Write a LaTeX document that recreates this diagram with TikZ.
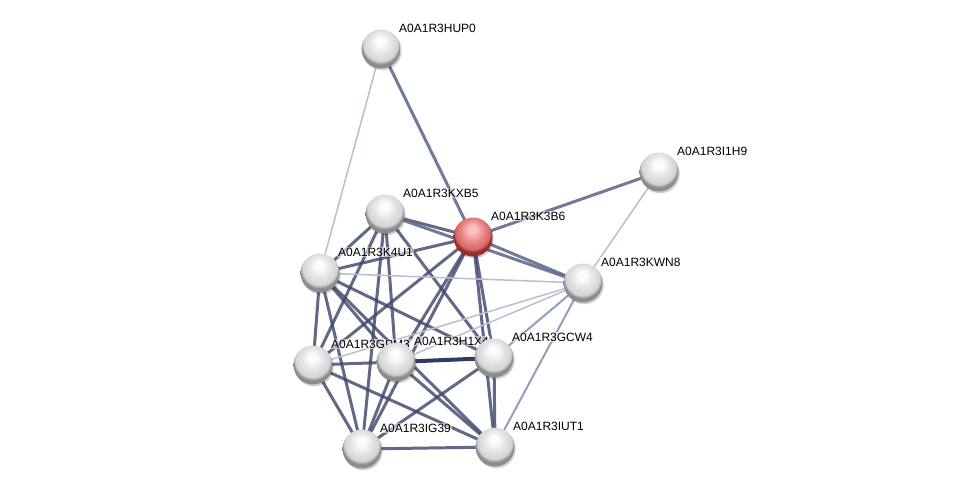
\documentclass[tikz,border=0pt]{standalone}
\usepackage{fontspec}
\setmainfont{Liberation Sans}
\definecolor{sphW}{RGB}{252,252,252}
\definecolor{sphA}{RGB}{226,226,226}
\definecolor{sphB}{RGB}{212,212,212}
\definecolor{sphC}{RGB}{140,140,140}
\definecolor{redW}{RGB}{252,190,190}
\definecolor{redA}{RGB}{232,132,132}
\definecolor{redB}{RGB}{214,104,104}
\definecolor{redC}{RGB}{150,45,45}
\definecolor{edgeS}{RGB}{62,72,108}
\definecolor{edgeX}{RGB}{38,48,86}
\definecolor{edgeM}{RGB}{98,108,142}
\definecolor{edgeLM}{RGB}{150,157,185}
\definecolor{edgeL}{RGB}{186,190,210}
\pgfdeclareradialshading{graysphere}{\pgfqpoint{-1bp}{11bp}}{%
  color(0bp)=(sphW); color(5bp)=(sphW); color(15bp)=(sphA); color(22bp)=(sphB); color(25bp)=(sphC); color(50bp)=(sphC)}
\pgfdeclareradialshading{redsphere}{\pgfqpoint{-1bp}{11bp}}{%
  color(0bp)=(redW); color(5bp)=(redW); color(15bp)=(redA); color(22bp)=(redB); color(25bp)=(redC); color(50bp)=(redC)}
\pgfdeclarelayer{edges}
\pgfdeclarelayer{labels}
\pgfsetlayers{edges,labels,main}
\tikzset{
  prot/.style={circle, minimum size=39pt, inner sep=0pt, shading=graysphere, draw=none},
  protred/.style={circle, minimum size=39pt, inner sep=0pt, shading=redsphere, draw=none},
  shad/.style={circle, minimum size=39pt, inner sep=0pt, fill=black, fill opacity=0.18, draw=none},
  plabel/.style={anchor=west, inner sep=1pt, fill=white, fill opacity=0.55, text opacity=1,
    font=\fontsize{12pt}{14pt}\selectfont},
  estrong/.style={draw=edgeS, line width=3pt, draw opacity=0.82},
  exstrong/.style={draw=edgeX, line width=4pt, draw opacity=0.95},
  emed/.style={draw=edgeM, line width=3pt, draw opacity=0.9},
  elm/.style={draw=edgeLM, line width=2pt},
  elight/.style={draw=edgeL, line width=1.5pt}
}
\begin{document}
\begin{tikzpicture}[x=1pt,y=-1pt]
\useasboundingbox (0,0) rectangle (976,495);
% shadows
\foreach \x/\y/\n in {381/49/sA,659/172/sB,385/214/sC,473/237/sD,320/273/sE,583/283/sF,313/365/sG,396/362/sH,494/358/sI,362/449/sJ,495/447/sK}
  \node[shad] (\n) at (\x+1.2,\y+1.8) {};
% proteins
\node[prot] (A) at (381,49) {};
\node[prot] (B) at (659,172) {};
\node[prot] (C) at (385,214) {};
\node[protred] (D) at (473,237) {};
\node[prot] (E) at (320,273) {};
\node[prot] (F) at (583,283) {};
\node[prot] (G) at (313,365) {};
\node[prot] (H) at (396,362) {};
\node[prot] (I) at (494,358) {};
\node[prot] (J) at (362,449) {};
\node[prot] (K) at (495,447) {};
% labels
\begin{pgfonlayer}{labels}
\node[plabel] (lA) at (381+17,49-21) {A0A1R3HUP0};
\node[plabel] (lB) at (659+17,172-21) {A0A1R3I1H9};
\node[plabel] (lC) at (385+17,214-21) {A0A1R3KXB5};
\node[plabel] (lD) at (473+17,237-21) {A0A1R3K3B6};
\node[plabel] (lE) at (320+17,273-21) {A0A1R3K4U1};
\node[plabel] (lF) at (583+17,283-21) {A0A1R3KWN8};
\node[plabel] (lG) at (313+17,365-21) {A0A1R3GPM3};
\node[plabel] (lH) at (396+17,362-21) {A0A1R3H1X4};
\node[plabel] (lI) at (494+17,358-21) {A0A1R3GCW4};
\node[plabel] (lJ) at (362+17,449-21) {A0A1R3IG39};
\node[plabel] (lK) at (495+17,447-21) {A0A1R3IUT1};
\end{pgfonlayer}
% edges
\begin{pgfonlayer}{edges}
\foreach \a/\b in {C/D,C/E,D/E,C/G,C/H,C/J,C/I,D/G,D/H,D/J,D/I,D/K,E/G,E/J,E/H,E/I,E/K,G/H,G/J,G/K,H/J,H/K,I/J,I/K,J/K}
  \draw[estrong] (\a.center) -- (\b.center);
\draw[exstrong] (H.center) -- (I.center);
\foreach \a/\b in {A/D,B/D,C/F,D/F}
  \draw[emed] (\a.center) -- (\b.center);
\foreach \a/\b in {F/I,F/K}
  \draw[elm] (\a.center) -- (\b.center);
\foreach \a/\b in {A/E,B/F,E/F,F/G,F/H}
  \draw[elight] (\a.center) -- (\b.center);
\end{pgfonlayer}
\end{tikzpicture}
\end{document}
